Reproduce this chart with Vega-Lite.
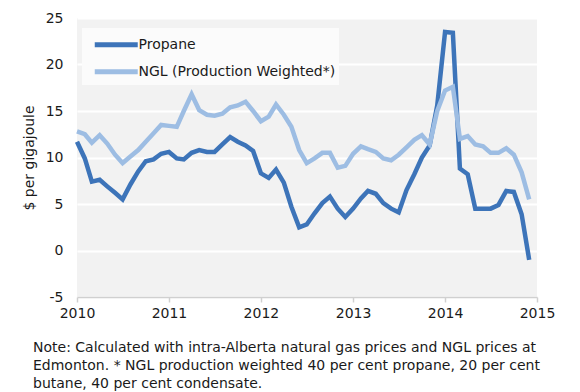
{
  "$schema": "https://vega.github.io/schema/vega-lite/v6.json",
  "width": 460,
  "height": 279,
  "autosize": {"type": "none"},
  "padding": {"left": 77, "top": 18, "right": 43, "bottom": 95},
  "background": "white",
  "config": {
    "font": "DejaVu Sans",
    "view": {"fill": "#f2f2f2", "stroke": null}
  },
  "title": {
    "text": [
      "Note: Calculated with intra-Alberta natural gas prices and NGL prices at",
      "Edmonton. * NGL production weighted 40 per cent propane, 20 per cent",
      "butane, 40 per cent condensate."
    ],
    "orient": "bottom",
    "anchor": "start",
    "frame": "group",
    "fontSize": 14,
    "fontWeight": "normal",
    "color": "#1a1a1a",
    "lineHeight": 18,
    "offset": 21,
    "dx": -44
  },
  "datasets": {
    "prices": [
      {"date": "2010-01-01T00:00", "series": "Propane", "value": 11.7},
      {"date": "2010-02-01T00:00", "series": "Propane", "value": 9.9},
      {"date": "2010-03-01T00:00", "series": "Propane", "value": 7.4},
      {"date": "2010-04-01T00:00", "series": "Propane", "value": 7.6},
      {"date": "2010-05-01T00:00", "series": "Propane", "value": 6.9},
      {"date": "2010-06-01T00:00", "series": "Propane", "value": 6.2},
      {"date": "2010-07-01T00:00", "series": "Propane", "value": 5.5},
      {"date": "2010-08-01T00:00", "series": "Propane", "value": 7.1},
      {"date": "2010-09-01T00:00", "series": "Propane", "value": 8.5},
      {"date": "2010-10-01T00:00", "series": "Propane", "value": 9.6},
      {"date": "2010-11-01T00:00", "series": "Propane", "value": 9.8},
      {"date": "2010-12-01T00:00", "series": "Propane", "value": 10.4},
      {"date": "2011-01-01T00:00", "series": "Propane", "value": 10.6},
      {"date": "2011-02-01T00:00", "series": "Propane", "value": 9.9},
      {"date": "2011-03-01T00:00", "series": "Propane", "value": 9.8},
      {"date": "2011-04-01T00:00", "series": "Propane", "value": 10.5},
      {"date": "2011-05-01T00:00", "series": "Propane", "value": 10.8},
      {"date": "2011-06-01T00:00", "series": "Propane", "value": 10.6},
      {"date": "2011-07-01T00:00", "series": "Propane", "value": 10.6},
      {"date": "2011-08-01T00:00", "series": "Propane", "value": 11.4},
      {"date": "2011-09-01T00:00", "series": "Propane", "value": 12.2},
      {"date": "2011-10-01T00:00", "series": "Propane", "value": 11.7},
      {"date": "2011-11-01T00:00", "series": "Propane", "value": 11.3},
      {"date": "2011-12-01T00:00", "series": "Propane", "value": 10.7},
      {"date": "2012-01-01T00:00", "series": "Propane", "value": 8.3},
      {"date": "2012-02-01T00:00", "series": "Propane", "value": 7.8},
      {"date": "2012-03-01T00:00", "series": "Propane", "value": 8.7},
      {"date": "2012-04-01T00:00", "series": "Propane", "value": 7.3},
      {"date": "2012-05-01T00:00", "series": "Propane", "value": 4.7},
      {"date": "2012-06-01T00:00", "series": "Propane", "value": 2.5},
      {"date": "2012-07-01T00:00", "series": "Propane", "value": 2.8},
      {"date": "2012-08-01T00:00", "series": "Propane", "value": 4.0},
      {"date": "2012-09-01T00:00", "series": "Propane", "value": 5.1},
      {"date": "2012-10-01T00:00", "series": "Propane", "value": 5.8},
      {"date": "2012-11-01T00:00", "series": "Propane", "value": 4.5},
      {"date": "2012-12-01T00:00", "series": "Propane", "value": 3.6},
      {"date": "2013-01-01T00:00", "series": "Propane", "value": 4.5},
      {"date": "2013-02-01T00:00", "series": "Propane", "value": 5.6},
      {"date": "2013-03-01T00:00", "series": "Propane", "value": 6.4},
      {"date": "2013-04-01T00:00", "series": "Propane", "value": 6.1},
      {"date": "2013-05-01T00:00", "series": "Propane", "value": 5.1},
      {"date": "2013-06-01T00:00", "series": "Propane", "value": 4.5},
      {"date": "2013-07-01T00:00", "series": "Propane", "value": 4.1},
      {"date": "2013-08-01T00:00", "series": "Propane", "value": 6.5},
      {"date": "2013-09-01T00:00", "series": "Propane", "value": 8.2},
      {"date": "2013-10-01T00:00", "series": "Propane", "value": 10.0},
      {"date": "2013-11-01T00:00", "series": "Propane", "value": 11.3},
      {"date": "2013-12-01T00:00", "series": "Propane", "value": 15.6},
      {"date": "2014-01-01T00:00", "series": "Propane", "value": 23.5},
      {"date": "2014-02-01T00:00", "series": "Propane", "value": 23.4},
      {"date": "2014-03-01T00:00", "series": "Propane", "value": 8.8},
      {"date": "2014-04-01T00:00", "series": "Propane", "value": 8.2},
      {"date": "2014-05-01T00:00", "series": "Propane", "value": 4.5},
      {"date": "2014-06-01T00:00", "series": "Propane", "value": 4.5},
      {"date": "2014-07-01T00:00", "series": "Propane", "value": 4.5},
      {"date": "2014-08-01T00:00", "series": "Propane", "value": 4.9},
      {"date": "2014-09-01T00:00", "series": "Propane", "value": 6.4},
      {"date": "2014-10-01T00:00", "series": "Propane", "value": 6.3},
      {"date": "2014-11-01T00:00", "series": "Propane", "value": 3.9},
      {"date": "2014-12-01T00:00", "series": "Propane", "value": -1.0},
      {"date": "2010-01-01T00:00", "series": "NGL (Production Weighted*)", "value": 12.8},
      {"date": "2010-02-01T00:00", "series": "NGL (Production Weighted*)", "value": 12.5},
      {"date": "2010-03-01T00:00", "series": "NGL (Production Weighted*)", "value": 11.6},
      {"date": "2010-04-01T00:00", "series": "NGL (Production Weighted*)", "value": 12.4},
      {"date": "2010-05-01T00:00", "series": "NGL (Production Weighted*)", "value": 11.5},
      {"date": "2010-06-01T00:00", "series": "NGL (Production Weighted*)", "value": 10.3},
      {"date": "2010-07-01T00:00", "series": "NGL (Production Weighted*)", "value": 9.4},
      {"date": "2010-08-01T00:00", "series": "NGL (Production Weighted*)", "value": 10.1},
      {"date": "2010-09-01T00:00", "series": "NGL (Production Weighted*)", "value": 10.8},
      {"date": "2010-10-01T00:00", "series": "NGL (Production Weighted*)", "value": 11.7},
      {"date": "2010-11-01T00:00", "series": "NGL (Production Weighted*)", "value": 12.6},
      {"date": "2010-12-01T00:00", "series": "NGL (Production Weighted*)", "value": 13.5},
      {"date": "2011-01-01T00:00", "series": "NGL (Production Weighted*)", "value": 13.4},
      {"date": "2011-02-01T00:00", "series": "NGL (Production Weighted*)", "value": 13.3},
      {"date": "2011-03-01T00:00", "series": "NGL (Production Weighted*)", "value": 15.0},
      {"date": "2011-04-01T00:00", "series": "NGL (Production Weighted*)", "value": 16.8},
      {"date": "2011-05-01T00:00", "series": "NGL (Production Weighted*)", "value": 15.1},
      {"date": "2011-06-01T00:00", "series": "NGL (Production Weighted*)", "value": 14.6},
      {"date": "2011-07-01T00:00", "series": "NGL (Production Weighted*)", "value": 14.5},
      {"date": "2011-08-01T00:00", "series": "NGL (Production Weighted*)", "value": 14.7},
      {"date": "2011-09-01T00:00", "series": "NGL (Production Weighted*)", "value": 15.4},
      {"date": "2011-10-01T00:00", "series": "NGL (Production Weighted*)", "value": 15.6},
      {"date": "2011-11-01T00:00", "series": "NGL (Production Weighted*)", "value": 16.0},
      {"date": "2011-12-01T00:00", "series": "NGL (Production Weighted*)", "value": 15.0},
      {"date": "2012-01-01T00:00", "series": "NGL (Production Weighted*)", "value": 13.9},
      {"date": "2012-02-01T00:00", "series": "NGL (Production Weighted*)", "value": 14.4},
      {"date": "2012-03-01T00:00", "series": "NGL (Production Weighted*)", "value": 15.7},
      {"date": "2012-04-01T00:00", "series": "NGL (Production Weighted*)", "value": 14.6},
      {"date": "2012-05-01T00:00", "series": "NGL (Production Weighted*)", "value": 13.3},
      {"date": "2012-06-01T00:00", "series": "NGL (Production Weighted*)", "value": 10.8},
      {"date": "2012-07-01T00:00", "series": "NGL (Production Weighted*)", "value": 9.4},
      {"date": "2012-08-01T00:00", "series": "NGL (Production Weighted*)", "value": 9.9},
      {"date": "2012-09-01T00:00", "series": "NGL (Production Weighted*)", "value": 10.5},
      {"date": "2012-10-01T00:00", "series": "NGL (Production Weighted*)", "value": 10.5},
      {"date": "2012-11-01T00:00", "series": "NGL (Production Weighted*)", "value": 8.9},
      {"date": "2012-12-01T00:00", "series": "NGL (Production Weighted*)", "value": 9.1},
      {"date": "2013-01-01T00:00", "series": "NGL (Production Weighted*)", "value": 10.4},
      {"date": "2013-02-01T00:00", "series": "NGL (Production Weighted*)", "value": 11.2},
      {"date": "2013-03-01T00:00", "series": "NGL (Production Weighted*)", "value": 10.9},
      {"date": "2013-04-01T00:00", "series": "NGL (Production Weighted*)", "value": 10.6},
      {"date": "2013-05-01T00:00", "series": "NGL (Production Weighted*)", "value": 9.9},
      {"date": "2013-06-01T00:00", "series": "NGL (Production Weighted*)", "value": 9.7},
      {"date": "2013-07-01T00:00", "series": "NGL (Production Weighted*)", "value": 10.3},
      {"date": "2013-08-01T00:00", "series": "NGL (Production Weighted*)", "value": 11.1},
      {"date": "2013-09-01T00:00", "series": "NGL (Production Weighted*)", "value": 11.9},
      {"date": "2013-10-01T00:00", "series": "NGL (Production Weighted*)", "value": 12.4},
      {"date": "2013-11-01T00:00", "series": "NGL (Production Weighted*)", "value": 11.4},
      {"date": "2013-12-01T00:00", "series": "NGL (Production Weighted*)", "value": 15.0},
      {"date": "2014-01-01T00:00", "series": "NGL (Production Weighted*)", "value": 17.2},
      {"date": "2014-02-01T00:00", "series": "NGL (Production Weighted*)", "value": 17.6},
      {"date": "2014-03-01T00:00", "series": "NGL (Production Weighted*)", "value": 12.0},
      {"date": "2014-04-01T00:00", "series": "NGL (Production Weighted*)", "value": 12.3},
      {"date": "2014-05-01T00:00", "series": "NGL (Production Weighted*)", "value": 11.4},
      {"date": "2014-06-01T00:00", "series": "NGL (Production Weighted*)", "value": 11.2},
      {"date": "2014-07-01T00:00", "series": "NGL (Production Weighted*)", "value": 10.5},
      {"date": "2014-08-01T00:00", "series": "NGL (Production Weighted*)", "value": 10.5},
      {"date": "2014-09-01T00:00", "series": "NGL (Production Weighted*)", "value": 11.0},
      {"date": "2014-10-01T00:00", "series": "NGL (Production Weighted*)", "value": 10.3},
      {"date": "2014-11-01T00:00", "series": "NGL (Production Weighted*)", "value": 8.4},
      {"date": "2014-12-01T00:00", "series": "NGL (Production Weighted*)", "value": 5.5}
    ]
  },
  "data": {"name": "prices"},
  "mark": {"type": "line", "strokeWidth": 4.5, "strokeJoin": "miter", "strokeCap": "butt", "clip": false},
  "encoding": {
    "x": {
      "field": "date",
      "type": "temporal",
      "scale": {"domain": [{"year": 2010, "month": 1, "date": 1}, {"year": 2015, "month": 1, "date": 1}]},
      "axis": {
        "title": null,
        "values": [
          {"year": 2010, "month": 1, "date": 1},
          {"year": 2011, "month": 1, "date": 1},
          {"year": 2012, "month": 1, "date": 1},
          {"year": 2013, "month": 1, "date": 1},
          {"year": 2014, "month": 1, "date": 1},
          {"year": 2015, "month": 1, "date": 1}
        ],
        "format": "%Y",
        "grid": false,
        "domainColor": "#d0d0d0",
        "domainWidth": 1.5,
        "tickColor": "#d0d0d0",
        "tickWidth": 1.5,
        "tickSize": 5,
        "labelFontSize": 14,
        "labelColor": "#1a1a1a",
        "labelPadding": 4,
        "labelFlush": false,
        "labelOverlap": false
      }
    },
    "y": {
      "field": "value",
      "type": "quantitative",
      "scale": {"domain": [-5, 25], "nice": false, "zero": false},
      "axis": {
        "title": "$ per gigajoule",
        "values": [-5, 0, 5, 10, 15, 20, 25],
        "labelExpr": "'' + datum.value",
        "domain": false,
        "ticks": false,
        "grid": true,
        "gridColor": "white",
        "gridWidth": 2,
        "gridOpacity": 1,
        "labelFontSize": 14,
        "labelColor": "#1a1a1a",
        "labelPadding": 14,
        "titleFontSize": 14,
        "titleFontWeight": "normal",
        "titleColor": "#1a1a1a",
        "titlePadding": 9
      }
    },
    "color": {
      "field": "series",
      "type": "nominal",
      "scale": {
        "domain": ["Propane", "NGL (Production Weighted*)"],
        "range": ["#3d74b9", "#9dbde3"]
      },
      "legend": {
        "title": null,
        "orient": "none",
        "legendX": 5,
        "legendY": 10,
        "fillColor": "#fbfbfb",
        "padding": 3.25,
        "symbolType": "M-2,0H2",
        "symbolSize": 462,
        "symbolStrokeWidth": 5,
        "symbolOffset": 17.5,
        "labelFontSize": 14,
        "labelLimit": 400,
        "labelColor": "#1a1a1a",
        "rowPadding": 3,
        "labelOffset": 8.75
      }
    }
  }
}
